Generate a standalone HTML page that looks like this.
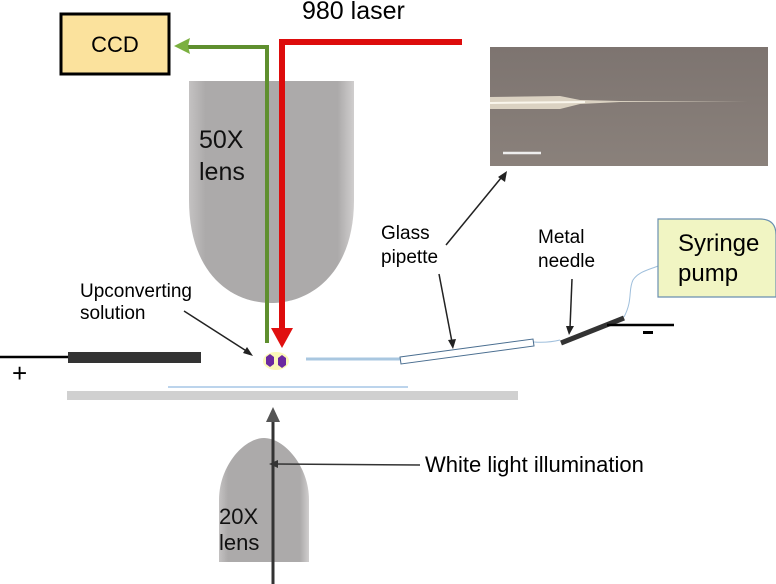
<!DOCTYPE html>
<html><head><style>body{margin:0;background:#fff}svg{display:block}</style></head><body>
<svg width="776" height="584" viewBox="0 0 776 584" xmlns="http://www.w3.org/2000/svg" font-family="Liberation Sans, sans-serif">
<defs>
<linearGradient id="lg" x1="0" x2="1"><stop offset="0" stop-color="#c4c2c2"/><stop offset="0.1" stop-color="#acaaaa"/><stop offset="0.9" stop-color="#acaaaa"/><stop offset="1" stop-color="#d0cece"/></linearGradient>
<linearGradient id="ph" x1="0" y1="0" x2="0" y2="1"><stop offset="0" stop-color="#7d7470"/><stop offset="1" stop-color="#8a817b"/></linearGradient>
</defs>
<text x="302" y="19" font-size="25" fill="#000">980 laser</text>
<rect x="61" y="14" width="108" height="60" fill="#fbe29d" stroke="#000" stroke-width="3"/>
<text x="115" y="52" font-size="22" text-anchor="middle">CCD</text>
<path d="M189,81 H354 V200 C354,272 312,303 271,303 C230,303 189,272 189,200 Z" fill="url(#lg)"/>
<text x="199" y="148" font-size="25" fill="#111">50X</text>
<text x="199" y="180" font-size="25" fill="#111">lens</text>
<path d="M267,343 V47 H186" fill="none" stroke="#5f8f2e" stroke-width="4"/>
<polygon points="174,46 190,38 188,46 190,54" fill="#7bb040"/>
<path d="M282,330 V42 H462" fill="none" stroke="#dd0c0c" stroke-width="6"/>
<polygon points="271,328 293,328 282,348" fill="#e01010"/>
<ellipse cx="276" cy="361" rx="13" ry="9" fill="#fbf8b0" opacity="0.9"/>
<polygon points="266,357 270,354 274,357 274,364 270,367 266,364" fill="#6b2aa0"/>
<polygon points="278,358 282,355 286,358 286,365 282,368 278,365" fill="#6b2aa0"/>
<text x="80" y="297" font-size="19">Upconverting</text>
<text x="80" y="319" font-size="19">solution</text>
<line x1="184" y1="311" x2="248" y2="352" stroke="#222" stroke-width="1.5"/>
<polygon points="253,356 243,353 247,347" fill="#222"/>
<line x1="0" y1="357" x2="70" y2="357" stroke="#000" stroke-width="2.5"/>
<rect x="68" y="352" width="133" height="11" fill="#333"/>
<text x="12" y="382" font-size="26">+</text>
<line x1="306" y1="359" x2="401" y2="359" stroke="#a9c7e0" stroke-width="3"/>
<polygon points="400,357 533,339 534,346 401,364" fill="#fff" stroke="#4a6e90" stroke-width="1"/>
<path d="M534,342 Q548,343 560,340" fill="none" stroke="#9fbfdc" stroke-width="1"/>
<line x1="561" y1="343" x2="624" y2="318" stroke="#333" stroke-width="5"/>
<line x1="607" y1="325" x2="674" y2="325" stroke="#000" stroke-width="2.5"/>
<rect x="643" y="331" width="10" height="3" fill="#000"/>
<path d="M624,317 C633,300 628,290 633,280 C638,272 648,270 658,266" fill="none" stroke="#9fbfdc" stroke-width="1"/>
<path d="M658,219 H760 Q776,219 776,235 V297 H658 Z" fill="#f1f5c3" stroke="#6a8fb0" stroke-width="1.2"/>
<text x="678" y="251" font-size="24">Syringe</text>
<text x="678" y="281" font-size="24">pump</text>
<text x="381" y="239" font-size="19">Glass</text>
<text x="381" y="263" font-size="19">pipette</text>
<text x="538" y="243" font-size="19">Metal</text>
<text x="538" y="267" font-size="19">needle</text>
<line x1="439" y1="274" x2="452" y2="342" stroke="#222" stroke-width="1.5"/>
<polygon points="453,349 448,340 456,339" fill="#222"/>
<line x1="572" y1="279" x2="570" y2="328" stroke="#222" stroke-width="1.5"/>
<polygon points="569,335 566,326 574,326" fill="#222"/>
<line x1="446" y1="245" x2="501" y2="178" stroke="#222" stroke-width="1.5"/>
<polygon points="507,171 505,182 498,177" fill="#222"/>
<rect x="490" y="47" width="278" height="119" fill="url(#ph)"/>
<path d="M490,97 L560,96 L580,100 L620,101 L748,101 L620,102 L580,104 L560,109 L490,109 Z" fill="#e4dccb" opacity="0.9"/>
<line x1="490" y1="103" x2="585" y2="102" stroke="#faf6ec" stroke-width="2"/>
<line x1="503" y1="153" x2="541" y2="153" stroke="#eee" stroke-width="2.5"/>
<line x1="168" y1="387" x2="408" y2="387" stroke="#7aa8d8" stroke-width="1"/>
<rect x="67" y="391" width="451" height="9" fill="#d0d0d0"/>
<path d="M219,562 V500 C219,466 244,438 264,438 C284,438 309,466 309,500 V562 Z" fill="url(#lg)"/>
<text x="219" y="524" font-size="22" fill="#111">20X</text>
<text x="219" y="550" font-size="22" fill="#111">lens</text>
<line x1="273" y1="584" x2="273" y2="420" stroke="#333" stroke-width="3"/>
<polygon points="266,422 280,422 273,407" fill="#555"/>
<line x1="420" y1="465" x2="275" y2="464" stroke="#333" stroke-width="1.5"/>
<polygon points="269,464 278,460 278,468" fill="#333"/>
<text x="425" y="472" font-size="22">White light illumination</text>
</svg>
</body></html>
